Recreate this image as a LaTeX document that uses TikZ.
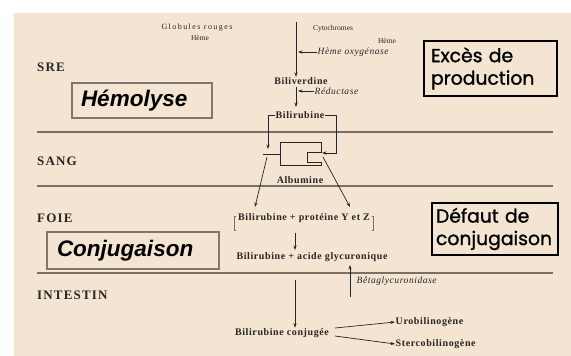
\documentclass[tikz,border=0pt]{standalone}
\usepackage{fontspec}
\setmainfont{Liberation Serif}
\newfontfamily\titlefont{Liberation Sans}
\newfontfamily\notefont{Poppins}[FakeBold=1.2]
\usetikzlibrary{arrows.meta}

\definecolor{paper}{RGB}{244,228,210}
\definecolor{ink}{RGB}{40,38,36}
\definecolor{rulegray}{RGB}{120,112,104}
\definecolor{framegray}{RGB}{128,120,110}

\tikzset{
  lbl/.style={inner sep=0.5pt, text=ink, font=\fontsize{10}{11}\selectfont\bfseries\addfontfeature{LetterSpace=6}},
  small/.style={inner sep=0.5pt, text=ink, font=\fontsize{7.5}{8}\selectfont},
  enzyme/.style={inner sep=0.5pt, text=ink, font=\fontsize{9.5}{10}\selectfont\itshape\addfontfeature{LetterSpace=6}},
  region/.style={inner sep=0pt, anchor=west, text=ink, font=\fontsize{13}{14}\selectfont\bfseries\addfontfeature{LetterSpace=9}},
  arr/.style={draw=ink, line width=0.7pt, -{Stealth[length=4.5pt,width=3.2pt]}},
  link/.style={draw=ink, line width=0.7pt},
  sepline/.style={draw=rulegray, line width=1.1pt},
  phasebox/.style={draw=framegray, line width=2.4pt, text=black, align=left,
    font=\titlefont\fontsize{22.5}{25}\selectfont\bfseries\itshape},
  notebox/.style={draw=black, line width=2.4pt, text=black, align=left,
    font=\notefont\fontsize{18.8}{22.5}\selectfont},
}

\begin{document}
\begin{tikzpicture}[x=1pt,y=-1pt]
  % page and sheet
  \fill[white] (0,0) rectangle (571,356);
  \fill[paper] (14,13) rectangle (571,356);
  \useasboundingbox (0,0) rectangle (571,356);

  % compartment separators
  \draw[sepline] (37,132) -- (553,132);
  \draw[sepline] (37,186) -- (553,186);
  \draw[sepline] (37,273) -- (553,273);

  % compartment names
  \node[region] (sre) at (37,67) {SRE};
  \node[region] (sang) at (37,161) {SANG};
  \node[region] (foie) at (37,218) {FOIE};
  \node[region] (intestin) at (37,295) {INTESTIN};

  % framed captions
  \node[phasebox, minimum width=140, minimum height=35, text width=122, inner xsep=9] (hemo) at (142,100.5) {Hémolyse};
  \node[phasebox, minimum width=172, minimum height=37, text width=152, inner xsep=10] (conj) at (133,250.5) {Conjugaison};
  \node[notebox, minimum width=133, minimum height=55, text width=119, inner xsep=7] (exces) at (490.5,68.5) {Excès de\\production};
  \node[notebox, minimum width=126, minimum height=52, text width=118, inner xsep=4] (defaut) at (495,229) {Défaut de\\conjugaison};

  % sources of heme
  \node[small, font=\fontsize{8}{8}\selectfont\addfontfeature{LetterSpace=18}] (glob) at (197,28) {Globules rouges};
  \node[small] (hemeL) at (200,38) {Hème};
  \node[small] (cyto) at (333,29) {Cytochromes};
  \node[small] (hemeR) at (387,41) {Hème};

  % heme catabolism
  \coordinate (src) at (296,22);
  \node[lbl] (bv) at (301,81) {Biliverdine};
  \node[lbl] (br) at (300,115) {Bilirubine};
  \node[enzyme, anchor=west] (ho) at (317,52) {Hème oxygénase};
  \node[enzyme, anchor=west] (red) at (314,91) {Réductase};
  \draw[arr] (src) -- (src |- bv.north);
  \draw[arr] (296,87) -- (296,107);
  \draw[arr] (ho.west) -- (298,52);
  \draw[arr] (red.west) -- (298,91);

  % albumin carrier
  \node[lbl] (alb) at (300,180) {Albumine};
  \draw[link] (280,142) -- (321,142) -- (321,152) -- (307,152) -- (307,162)
              -- (321,162) -- (321,165) -- (280,165) -- cycle;
  \coordinate (albL) at (280,154);
  \coordinate (barL) at (263,154);
  \draw[link] (barL) -- (albL);
  \coordinate (bl) at (268,115);
  \coordinate (brr) at (336,115);
  \draw[arr] (br.west) -- (bl) -- (268,149);
  \draw[arr] (br.east) -- (brr) -- (336,153) -- (322,153);

  % liver
  \node[lbl] (pyz) at (304,218) {Bilirubine + protéine Y et Z};
  \draw[link, draw=rulegray, line width=0.6pt] ([xshift=-1pt,yshift=-4pt]pyz.north west) -- ++(-2,0) -- ++(0,14) -- ++(2,0);
  \draw[link, draw=rulegray, line width=0.6pt] ([xshift=1pt,yshift=-4pt]pyz.north east) -- ++(2,0) -- ++(0,14) -- ++(-2,0);
  \draw[arr] (267,157) -- (255,207);
  \draw[arr] (323,157) -- (350,207);
  \node[lbl] (agl) at (312,257) {Bilirubine + acide glycuronique};
  \draw[arr] (295,233) -- (295,250);

  % intestine
  \node[enzyme, anchor=west] (beta) at (356,281) {Bêtaglycuronidase};
  \coordinate (betaL) at (350,297);
  \draw[arr] (betaL) -- (350,265);
  \node[lbl] (bc) at (282,333) {Bilirubine conjugée};
  \draw[arr] (295,280) -- (bc.north -| 295,0);
  \node[lbl, anchor=west] (uro) at (395,322) {Urobilinogène};
  \node[lbl, anchor=west] (ster) at (395,344) {Stercobilinogène};
  \draw[arr] (335,328) -- (uro.west);
  \draw[arr] (335,336) -- (ster.west);
\end{tikzpicture}
\end{document}
